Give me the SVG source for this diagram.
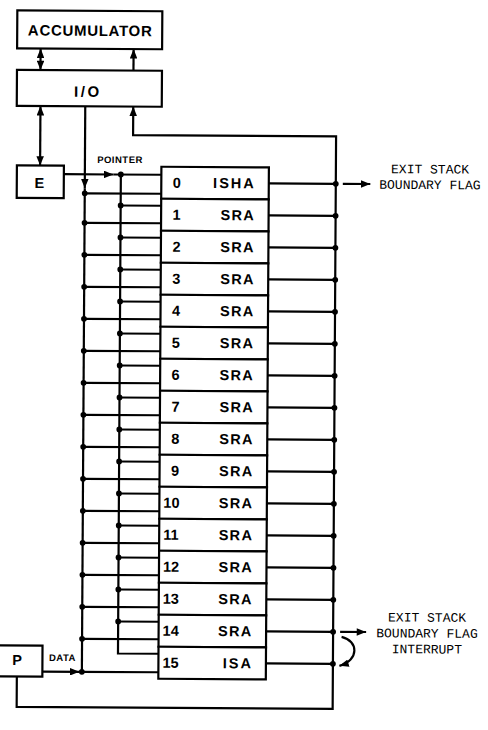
<svg xmlns="http://www.w3.org/2000/svg" width="488" height="730" viewBox="0 0 488 730">
<defs>
<marker id="ah" viewBox="0 0 10 8" refX="10" refY="4" markerWidth="10" markerHeight="7.5" markerUnits="userSpaceOnUse" orient="auto-start-reverse"><path d="M0,0 L10,4 L0,8 z" fill="#000"/></marker>
</defs>
<style>
.box{fill:#fff;stroke:#000;stroke-width:2.2}
.w{fill:none;stroke:#000;stroke-width:2.2}
.a{marker-end:url(#ah)}
.aa{marker-start:url(#ah);marker-end:url(#ah)}
.t{font-family:"Liberation Sans",Arial,sans-serif;font-weight:bold;fill:#000}
.big{font-size:15px}
.n{font-size:14.5px}
.nm{font-size:14.5px;text-anchor:end;letter-spacing:1.3px}
.nm2{font-size:14.5px;text-anchor:end;letter-spacing:2px}
.sm{font-size:9.5px;text-anchor:middle;letter-spacing:0.5px}
.c{text-anchor:middle}
.m{font-family:"Liberation Mono","DejaVu Sans Mono",monospace;font-size:13px;fill:#000;text-anchor:middle}
.d{fill:#000}
</style>
<rect width="488" height="730" fill="#fff"/>
<g transform="rotate(0.344 200 400)">
<g id="connectors">
<path class="w aa" d="M38.5,49.5 V71"/>
<path class="w a" d="M131.5,71 V49.5"/>
<path class="w aa" d="M38.7,107 V166.5"/>
<path class="w a" d="M18.5,677.5 V708 H334.5 V135.5 H131.5 V107"/>
<path class="w a" d="M62.5,175 H112"/>
<path class="w" d="M112,175 H160"/>
<path class="w a" d="M83.5,107 V189"/>
<path class="w" d="M83.5,189 V672.5"/>
<path class="w" d="M119.5,175 V654 H160"/>
<path class="w a" d="M44,672.5 H81"/>
<path class="w" d="M81,672.5 H160"/>
<path class="w" d="M83.5,194 H160 M83.5,223.5 H160 M83.5,255.5 H160 M83.5,287.5 H160 M83.5,319.5 H160 M83.5,351.5 H160 M83.5,383.5 H160 M83.5,415.5 H160 M83.5,447.5 H160 M83.5,479.5 H160 M83.5,511.5 H160 M83.5,543.5 H160 M83.5,575.5 H160 M83.5,607.5 H160 M83.5,639.5 H160"/>
<path class="w" d="M119.5,206 H160 M119.5,238 H160 M119.5,270 H160 M119.5,302 H160 M119.5,334 H160 M119.5,366 H160 M119.5,398 H160 M119.5,430 H160 M119.5,462 H160 M119.5,494 H160 M119.5,526 H160 M119.5,558 H160 M119.5,590 H160 M119.5,622 H160"/>
<path class="w" d="M267.5,183 H334.5 M267.5,215 H334.5 M267.5,247 H334.5 M267.5,279 H334.5 M267.5,311 H334.5 M267.5,343 H334.5 M267.5,375 H334.5 M267.5,407 H334.5 M267.5,439 H334.5 M267.5,471 H334.5 M267.5,503 H334.5 M267.5,535 H334.5 M267.5,567 H334.5 M267.5,599 H334.5 M267.5,631 H334.5 M267.5,663 H334.5"/>
<path class="w a" d="M341.5,183 H369"/>
<path class="w a" d="M341.5,631 H367.5"/>
<path class="w a" d="M343,636 C360,640 361,659 341,665"/>
<g class="d">
<circle cx="119.5" cy="175" r="2.9"/><circle cx="119.5" cy="206" r="2.9"/><circle cx="119.5" cy="238" r="2.9"/><circle cx="119.5" cy="270" r="2.9"/><circle cx="119.5" cy="302" r="2.9"/><circle cx="119.5" cy="334" r="2.9"/><circle cx="119.5" cy="366" r="2.9"/><circle cx="119.5" cy="398" r="2.9"/><circle cx="119.5" cy="430" r="2.9"/><circle cx="119.5" cy="462" r="2.9"/><circle cx="119.5" cy="494" r="2.9"/><circle cx="119.5" cy="526" r="2.9"/><circle cx="119.5" cy="558" r="2.9"/><circle cx="119.5" cy="590" r="2.9"/><circle cx="119.5" cy="622" r="2.9"/>
<circle cx="83.5" cy="194" r="2.9"/><circle cx="83.5" cy="223.5" r="2.9"/><circle cx="83.5" cy="255.5" r="2.9"/><circle cx="83.5" cy="287.5" r="2.9"/><circle cx="83.5" cy="319.5" r="2.9"/><circle cx="83.5" cy="351.5" r="2.9"/><circle cx="83.5" cy="383.5" r="2.9"/><circle cx="83.5" cy="415.5" r="2.9"/><circle cx="83.5" cy="447.5" r="2.9"/><circle cx="83.5" cy="479.5" r="2.9"/><circle cx="83.5" cy="511.5" r="2.9"/><circle cx="83.5" cy="543.5" r="2.9"/><circle cx="83.5" cy="575.5" r="2.9"/><circle cx="83.5" cy="607.5" r="2.9"/><circle cx="83.5" cy="639.5" r="2.9"/><circle cx="83.5" cy="672.5" r="2.9"/>
<circle cx="334.5" cy="183" r="2.9"/><circle cx="334.5" cy="215" r="2.9"/><circle cx="334.5" cy="247" r="2.9"/><circle cx="334.5" cy="279" r="2.9"/><circle cx="334.5" cy="311" r="2.9"/><circle cx="334.5" cy="343" r="2.9"/><circle cx="334.5" cy="375" r="2.9"/><circle cx="334.5" cy="407" r="2.9"/><circle cx="334.5" cy="439" r="2.9"/><circle cx="334.5" cy="471" r="2.9"/><circle cx="334.5" cy="503" r="2.9"/><circle cx="334.5" cy="535" r="2.9"/><circle cx="334.5" cy="567" r="2.9"/><circle cx="334.5" cy="599" r="2.9"/><circle cx="334.5" cy="631" r="2.9"/><circle cx="334.5" cy="663" r="2.9"/>
</g>
<text class="t sm" x="118.6" y="163.5">POINTER</text>
<text class="t sm" x="64" y="661.8">DATA</text>
</g>
<g id="accumulator"><rect class="box" x="15" y="11.5" width="145" height="38"/><text class="t big c" x="88" y="36.5" letter-spacing="0.7">ACCUMULATOR</text></g>
<g id="io"><rect class="box" x="15" y="71" width="145" height="36"/><text class="t big c" x="86" y="97.5" letter-spacing="2.5">I/O</text></g>
<g id="e"><rect class="box" x="15.5" y="166.5" width="47" height="32.5"/><text class="t n c" x="38" y="189">E</text></g>
<g id="p"><rect class="box" x="-10" y="646.5" width="54" height="31"/><text class="t n c" x="18.6" y="666">P</text></g>
<g id="reg0"><rect class="box" x="160" y="167" width="107.5" height="32"/><text class="t n" x="171.5" y="188">0</text><text class="t nm2" x="254.5" y="188">ISHA</text></g>
<g id="reg1"><rect class="box" x="160" y="199" width="107.5" height="32"/><text class="t n" x="171.5" y="220">1</text><text class="t nm" x="254" y="220">SRA</text></g>
<g id="reg2"><rect class="box" x="160" y="231" width="107.5" height="32"/><text class="t n" x="171.5" y="252">2</text><text class="t nm" x="254" y="252">SRA</text></g>
<g id="reg3"><rect class="box" x="160" y="263" width="107.5" height="32"/><text class="t n" x="171.5" y="284">3</text><text class="t nm" x="254" y="284">SRA</text></g>
<g id="reg4"><rect class="box" x="160" y="295" width="107.5" height="32"/><text class="t n" x="171.5" y="316">4</text><text class="t nm" x="254" y="316">SRA</text></g>
<g id="reg5"><rect class="box" x="160" y="327" width="107.5" height="32"/><text class="t n" x="171.5" y="348">5</text><text class="t nm" x="254" y="348">SRA</text></g>
<g id="reg6"><rect class="box" x="160" y="359" width="107.5" height="32"/><text class="t n" x="171.5" y="380">6</text><text class="t nm" x="254" y="380">SRA</text></g>
<g id="reg7"><rect class="box" x="160" y="391" width="107.5" height="32"/><text class="t n" x="171.5" y="412">7</text><text class="t nm" x="254" y="412">SRA</text></g>
<g id="reg8"><rect class="box" x="160" y="423" width="107.5" height="32"/><text class="t n" x="171.5" y="444">8</text><text class="t nm" x="254" y="444">SRA</text></g>
<g id="reg9"><rect class="box" x="160" y="455" width="107.5" height="32"/><text class="t n" x="171.5" y="476">9</text><text class="t nm" x="254" y="476">SRA</text></g>
<g id="reg10"><rect class="box" x="160" y="487" width="107.5" height="32"/><text class="t n" x="164" y="508">10</text><text class="t nm" x="254" y="508">SRA</text></g>
<g id="reg11"><rect class="box" x="160" y="519" width="107.5" height="32"/><text class="t n" x="164" y="540">11</text><text class="t nm" x="254" y="540">SRA</text></g>
<g id="reg12"><rect class="box" x="160" y="551" width="107.5" height="32"/><text class="t n" x="164" y="572">12</text><text class="t nm" x="254" y="572">SRA</text></g>
<g id="reg13"><rect class="box" x="160" y="583" width="107.5" height="32"/><text class="t n" x="164" y="604">13</text><text class="t nm" x="254" y="604">SRA</text></g>
<g id="reg14"><rect class="box" x="160" y="615" width="107.5" height="32"/><text class="t n" x="164" y="636">14</text><text class="t nm" x="254" y="636">SRA</text></g>
<g id="reg15"><rect class="box" x="160" y="647" width="107.5" height="32"/><text class="t n" x="164" y="668">15</text><text class="t nm2" x="254.5" y="668">ISA</text></g>
<g id="label-flag"><text class="m" x="428.7" y="172">EXIT STACK</text><text class="m" x="428.7" y="187.7">BOUNDARY FLAG</text></g>
<g id="label-interrupt"><text class="m" x="428.4" y="620.3">EXIT STACK</text><text class="m" x="428.4" y="636.2">BOUNDARY FLAG</text><text class="m" x="428.4" y="652">INTERRUPT</text></g>
</g>
</svg>
